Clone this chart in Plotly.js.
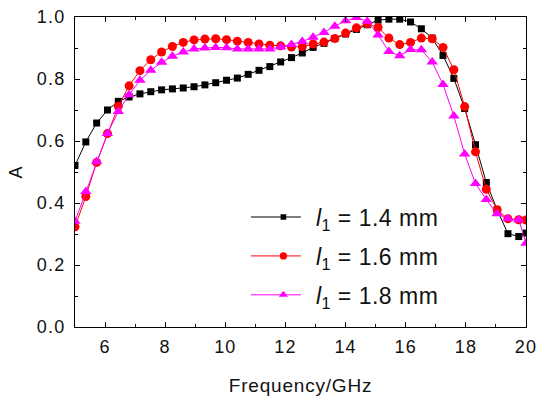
<!DOCTYPE html>
<html>
<head>
<meta charset="utf-8">
<script src="https://cdn.plot.ly/plotly-3.0.1.min.js"></script>
<style>
html,body{margin:0;padding:0;background:#fff;}
#chart{width:545px;height:397px;}
.xtick text, .ytick text { letter-spacing: 1.2px; }
.g-xtitle text, .g-ytitle text { letter-spacing: 0.8px; }
.legendtext { letter-spacing: 0.5px; }
</style>
</head>
<body>
<div id="chart"></div>
<script>
const freq = [5.00, 5.36, 5.72, 6.08, 6.44, 6.80, 7.16, 7.52, 7.88, 8.24, 8.60, 8.96, 9.32, 9.68,
  10.04, 10.40, 10.76, 11.12, 11.48, 11.84, 12.20, 12.56, 12.92, 13.28, 13.64, 14.00, 14.36, 14.72,
  15.08, 15.44, 15.80, 16.16, 16.52, 16.88, 17.24, 17.60, 17.96, 18.32, 18.68, 19.04, 19.40, 19.76, 20.00];

const a14 = [0.521, 0.597, 0.658, 0.700, 0.728, 0.742, 0.752, 0.759, 0.765, 0.768, 0.771, 0.775, 0.781, 0.788,
  0.796, 0.803, 0.815, 0.828, 0.840, 0.855, 0.869, 0.884, 0.902, 0.915, 0.930, 0.945, 0.960, 0.975,
  0.990, 0.993, 0.993, 0.984, 0.962, 0.932, 0.876, 0.802, 0.705, 0.588, 0.466, 0.378, 0.301, 0.292, 0.303];

const a16 = [0.323, 0.421, 0.531, 0.624, 0.712, 0.778, 0.827, 0.862, 0.887, 0.905, 0.918, 0.926, 0.929, 0.930,
  0.927, 0.922, 0.918, 0.913, 0.909, 0.907, 0.903, 0.905, 0.913, 0.919, 0.931, 0.948, 0.965, 0.978,
  0.966, 0.932, 0.911, 0.918, 0.932, 0.930, 0.902, 0.830, 0.711, 0.565, 0.444, 0.378, 0.349, 0.346, 0.345];

const a18 = [0.341, 0.437, 0.534, 0.624, 0.695, 0.749, 0.796, 0.828, 0.854, 0.873, 0.887, 0.897, 0.900, 0.902,
  0.901, 0.897, 0.897, 0.897, 0.897, 0.903, 0.911, 0.921, 0.935, 0.950, 0.970, 0.988, 0.998, 0.986,
  0.942, 0.889, 0.875, 0.895, 0.894, 0.855, 0.782, 0.681, 0.558, 0.463, 0.411, 0.365, 0.349, 0.346, 0.270];

const seriesNames = ['<i>l</i><sub>1</sub> = 1.4 mm', '<i>l</i><sub>1</sub> = 1.6 mm', '<i>l</i><sub>1</sub> = 1.8 mm'];

const FONT = 'Liberation Sans, Arial, sans-serif';

const traces = [
  {x: freq, y: a14, name: seriesNames[0], mode: 'lines+markers', legendgroup: 'g1',
   line: {color: '#000000', width: 1}, marker: {symbol: 'square', size: 7, color: '#000000'}},
  {x: freq, y: a16, name: seriesNames[1], mode: 'lines+markers', legendgroup: 'g2',
   line: {color: '#ff0000', width: 1}, marker: {symbol: 'circle', size: 9, color: '#ff0000'}},
  {x: freq, y: a18, name: seriesNames[2], mode: 'lines+markers', legendgroup: 'g3',
   line: {color: '#ff00ff', width: 1}, marker: {symbol: 'triangle-up', size: 10, color: '#ff00ff'}}
];

const axisCommon = {
  showline: true, linecolor: '#000', linewidth: 1, mirror: 'allticks',
  ticks: 'inside', ticklen: 5, tickwidth: 1, tickcolor: '#000',
  showgrid: false, zeroline: false,
  tickfont: {family: FONT, size: 18, color: '#111'},
  minor: {ticks: 'inside', ticklen: 3, tickwidth: 1, tickcolor: '#000', showgrid: false}
};

const layout = {
  width: 545, height: 397,
  margin: {l: 75, r: 19, t: 17, b: 70},
  paper_bgcolor: '#fff', plot_bgcolor: '#fff',
  showlegend: true,
  xaxis: Object.assign({}, axisCommon, {
    range: [5, 20], tick0: 0, dtick: 2, ticklabelstandoff: 3,
    minor: Object.assign({}, axisCommon.minor, {dtick: 1}),
    title: {text: 'Frequency/GHz', font: {family: FONT, size: 19, color: '#111'}, standoff: 23}
  }),
  yaxis: Object.assign({}, axisCommon, {
    range: [0, 1], tick0: 0, dtick: 0.2, tickformat: '.1f', ticklabelstandoff: 5,
    minor: Object.assign({}, axisCommon.minor, {dtick: 0.1}),
    title: {text: 'A', font: {family: FONT, size: 18, color: '#111'}, standoff: 9}
  }),
  legend: {
    x: 0.39, y: 0.424, xanchor: 'left', yanchor: 'top',
    bgcolor: 'rgba(0,0,0,0)', borderwidth: 0,
    font: {family: FONT, size: 23, color: '#111'},
    traceorder: 'grouped', tracegroupgap: 6, itemwidth: 55
  }
};

Plotly.newPlot('chart', traces, layout, {displayModeBar: false, staticPlot: true}).then(function (gd) {
  // lengthen the legend sample lines to match the reference
  gd.querySelectorAll('.legend .legendlines path').forEach(function (p) {
    p.setAttribute('d', 'M-11,0h61');
  });
  gd.querySelectorAll('.legend .legendpoints path').forEach(function (p) {
    p.setAttribute('transform', (p.getAttribute('transform') || '') + ' scale(0.8)');
  });
});
</script>
</body>
</html>
